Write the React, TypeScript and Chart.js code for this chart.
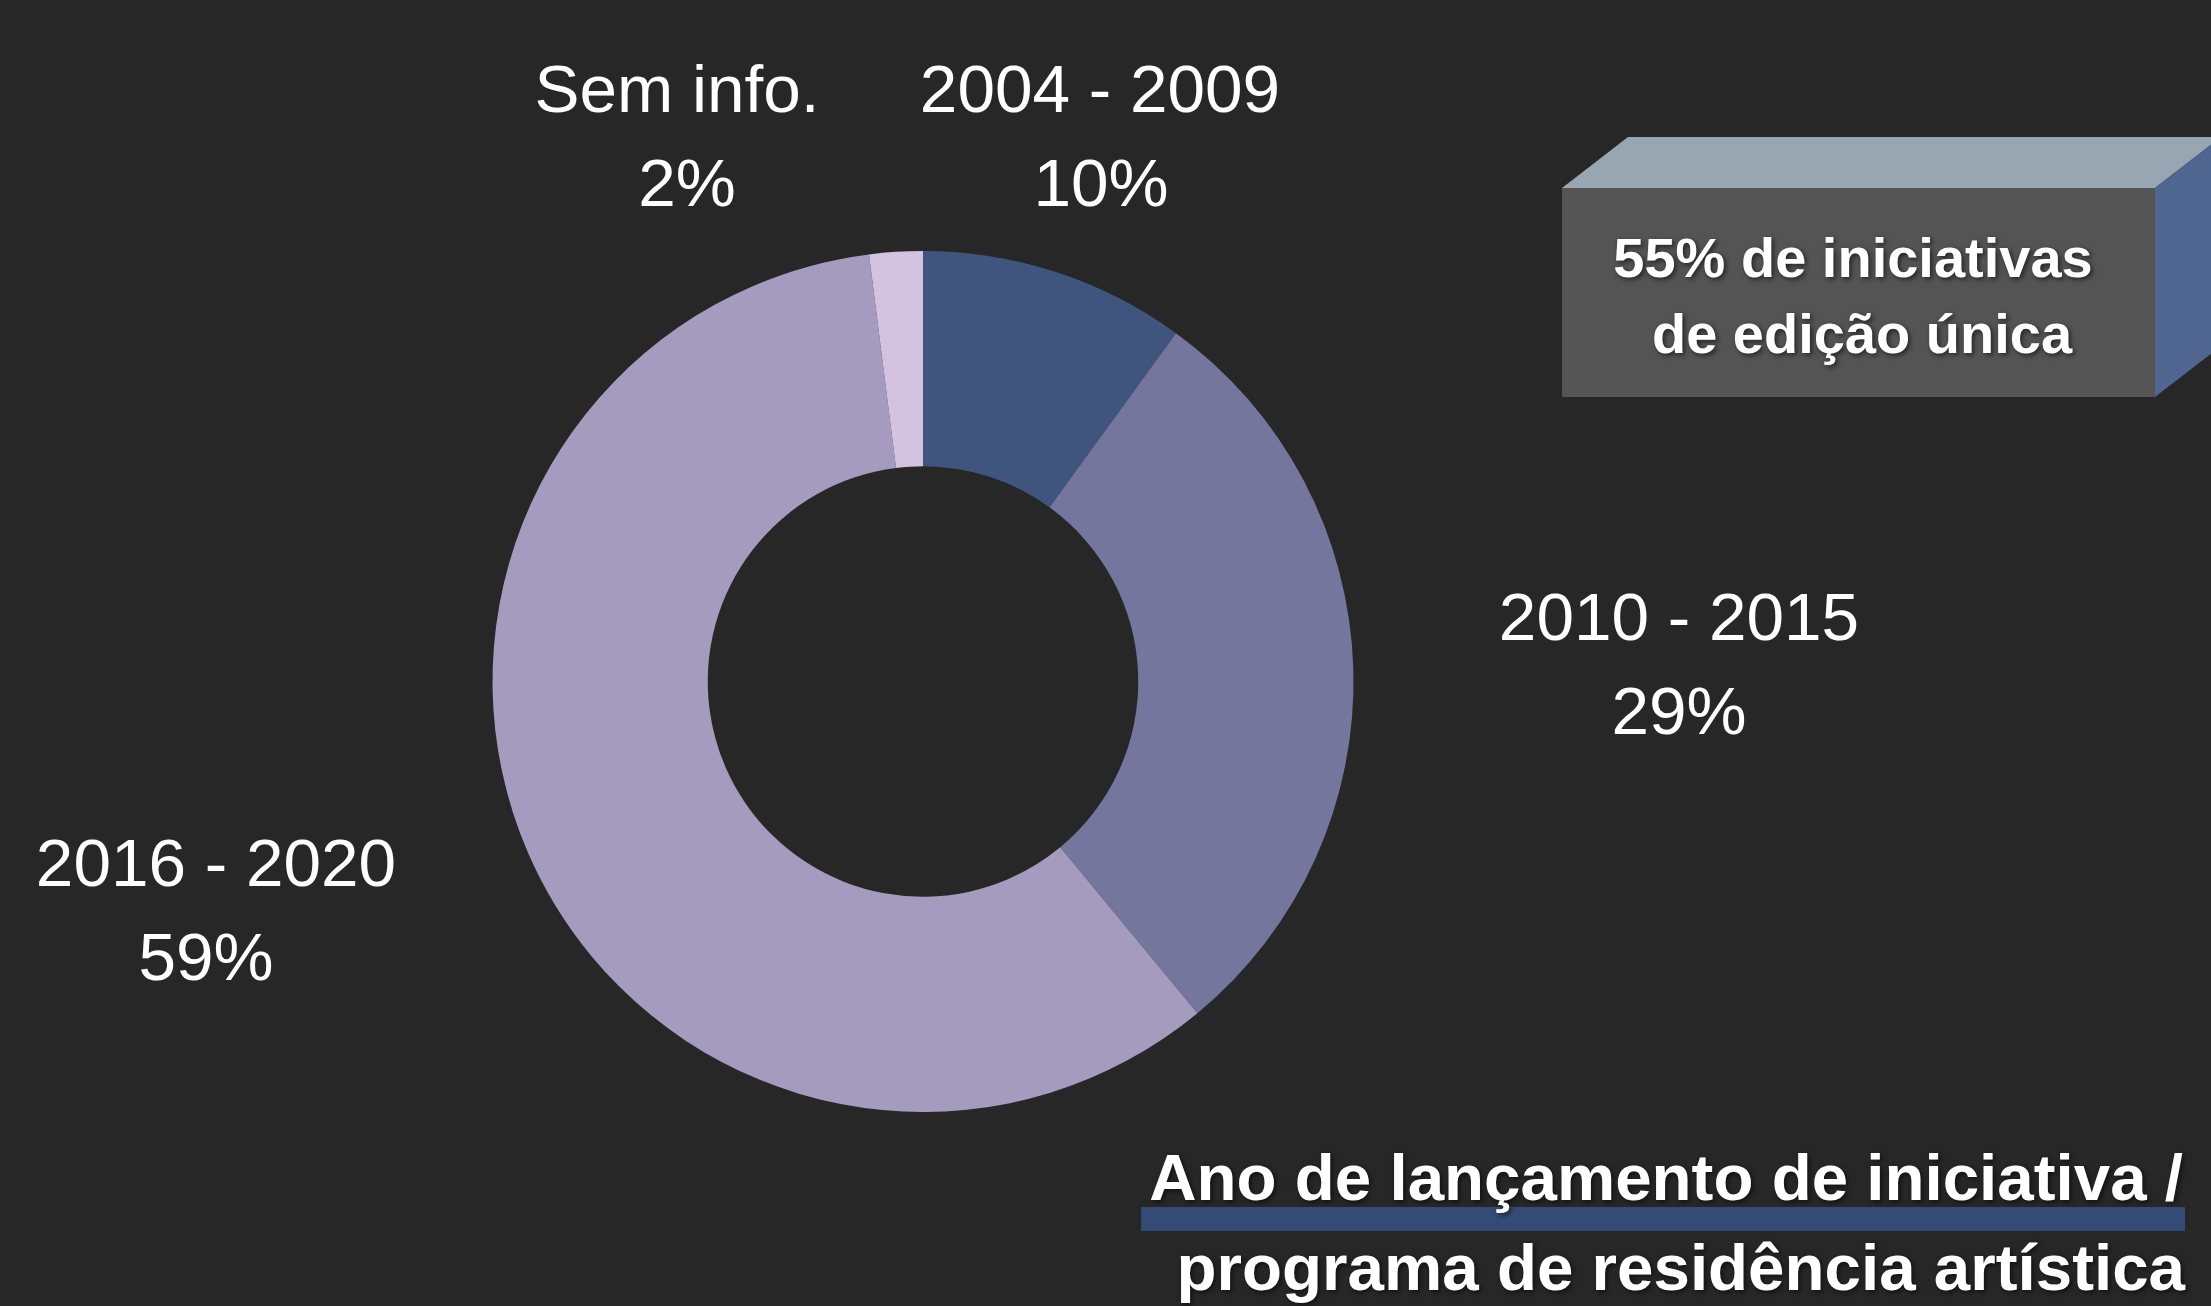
import React, { useEffect, useRef } from "react";
import { Chart, registerables } from "chart.js";

Chart.register(...registerables);

const categories = ["2004 - 2009", "2010 - 2015", "2016 - 2020", "Sem info."];
const shares = [10, 29, 59, 2];
const shareLabels = ["10%", "29%", "59%", "2%"];
const sliceColors = ["#3F557E", "#74769D", "#A59BBF", "#D3C3E0"];
const calloutLines = ["55% de iniciativas", "de edição única"];
const titleLines = ["Ano de lançamento de iniciativa /", "programa de residência artística"];

const W = 2211;
const H = 1306;
const BG = "#272727";

// label anchor positions (center x, baseline of first line, baseline of second line)
const labelPos: Record<string, [number, number, number, number]> = {
  "2004 - 2009": [1100, 112, 1101, 206],
  "2010 - 2015": [1679, 640, 1679, 734],
  "2016 - 2020": [216, 886, 206, 980],
  "Sem info.": [677, 112, 687, 206],
};

const decorPlugin = {
  id: "decor",
  beforeDraw(chart: any) {
    const ctx = chart.ctx as CanvasRenderingContext2D;
    ctx.save();
    ctx.fillStyle = BG;
    ctx.fillRect(0, 0, W, H);
    ctx.restore();
  },
  afterDraw(chart: any) {
    const ctx = chart.ctx as CanvasRenderingContext2D;
    ctx.save();
    // slice labels
    ctx.fillStyle = "#FFFFFF";
    ctx.textAlign = "center";
    ctx.textBaseline = "alphabetic";
    ctx.font = '67.5px "Liberation Sans", Arial, sans-serif';
    categories.forEach((c, i) => {
      const p = labelPos[c];
      ctx.fillText(c, p[0], p[1]);
      ctx.fillText(shareLabels[i], p[2], p[3]);
    });

    // 3D callout box
    const fx = 1562, fy = 188, fw = 593, fh = 209, dx = 66, dy = -51;
    ctx.fillStyle = "#98A6B1";
    ctx.beginPath();
    ctx.moveTo(fx, fy);
    ctx.lineTo(fx + dx, fy + dy);
    ctx.lineTo(fx + fw + dx, fy + dy);
    ctx.lineTo(fx + fw, fy);
    ctx.closePath();
    ctx.fill();
    ctx.fillStyle = "#4E6690";
    ctx.beginPath();
    ctx.moveTo(fx + fw, fy);
    ctx.lineTo(fx + fw + dx, fy + dy);
    ctx.lineTo(fx + fw + dx, fy + fh + dy);
    ctx.lineTo(fx + fw, fy + fh);
    ctx.closePath();
    ctx.fill();
    ctx.fillStyle = "#545454";
    ctx.fillRect(fx, fy, fw, fh);

    ctx.shadowColor = "rgba(0,0,0,0.6)";
    ctx.shadowBlur = 5;
    ctx.shadowOffsetX = 2;
    ctx.shadowOffsetY = 2;
    ctx.fillStyle = "#FFFFFF";
    ctx.font = 'bold 56px "Liberation Sans", Arial, sans-serif';
    ctx.fillText(calloutLines[0], 1853, 277);
    ctx.fillText(calloutLines[1], 1862, 353);

    // title
    ctx.shadowColor = "transparent";
    ctx.fillStyle = "#344B76";
    ctx.fillRect(1141, 1207, 1044, 24);
    ctx.shadowColor = "rgba(0,0,0,0.6)";
    ctx.fillStyle = "#FFFFFF";
    ctx.textAlign = "right";
    ctx.font = 'bold 65.5px "Liberation Sans", Arial, sans-serif';
    ctx.fillText(titleLines[0], 2183, 1200);
    ctx.fillText(titleLines[1], 2185, 1290);
    ctx.restore();
  },
};

export default function App() {
  const ref = useRef<HTMLCanvasElement | null>(null);
  useEffect(() => {
    document.body.style.margin = "0";
    document.body.style.background = BG;
    const canvas = ref.current!;
    const cx = 923, cy = 681.5, r = 430.5;
    const chart = new Chart(canvas, {
      type: "doughnut",
      data: {
        labels: categories,
        datasets: [
          {
            data: shares,
            backgroundColor: sliceColors,
            borderWidth: 0,
            hoverOffset: 0,
            radius: r,
            cutout: "50%",
          } as any,
        ],
      },
      options: {
        responsive: false,
        animation: false,
        devicePixelRatio: 1,
        layout: {
          padding: {
            left: cx - r,
            right: W - (cx + r),
            top: cy - r,
            bottom: H - (cy + r),
          },
        },
        plugins: {
          legend: { display: false },
          tooltip: { enabled: false },
        },
        events: [],
      } as any,
      plugins: [decorPlugin],
    });
    return () => chart.destroy();
  }, []);
  return (
    <canvas
      ref={ref}
      width={W}
      height={H}
      style={{ position: "fixed", left: 0, top: 0, width: W, height: H, display: "block" }}
    />
  );
}
